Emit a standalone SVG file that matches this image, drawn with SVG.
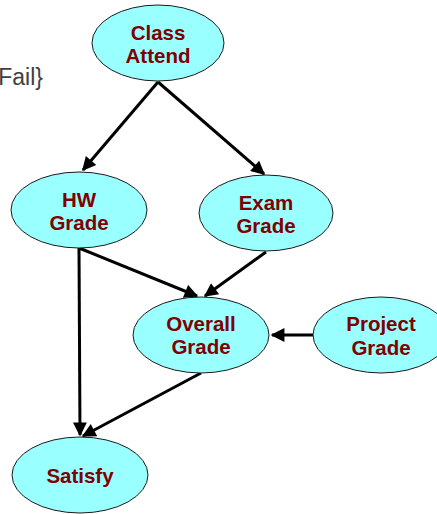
<svg xmlns="http://www.w3.org/2000/svg" width="437" height="514" viewBox="0 0 437 514">
<style>
.n{fill:#99ffff;stroke:#1a1a1a;stroke-width:1}
.t{font-family:"Liberation Sans",Arial,sans-serif;font-weight:bold;font-size:20.5px;fill:#800000;text-anchor:middle}
.e{stroke:#000;stroke-width:3;fill:none;marker-end:url(#ah)}
</style>
<defs>
<marker id="ah" viewBox="0 0 10 10" refX="9" refY="5" markerWidth="5.2" markerHeight="4.6" markerUnits="strokeWidth" orient="auto">
<path d="M0,0 L10,5 L0,10 z" fill="#000"/>
</marker>
</defs>
<rect width="437" height="514" fill="#fff"/>
<text x="43" y="85" font-family="Liberation Sans,Arial,sans-serif" font-size="23" fill="#404040" text-anchor="end">Fail}</text>
<g id="edges">
<line class="e" x1="158" y1="82" x2="83" y2="170"/>
<line class="e" x1="158" y1="82" x2="264" y2="174"/>
<line class="e" x1="79" y1="248" x2="197" y2="296"/>
<line class="e" x1="79" y1="248" x2="80" y2="435"/>
<line class="e" x1="266" y1="252" x2="205" y2="296"/>
<line class="e" x1="313" y1="335" x2="272" y2="335"/>
<line class="e" x1="201" y1="373" x2="83" y2="436"/>
</g>
<g id="class_attend"><ellipse class="n" cx="158" cy="43" rx="66" ry="38"/><text class="t" x="158" y="40">Class</text><text class="t" x="158" y="63">Attend</text></g>
<g id="hw_grade"><ellipse class="n" cx="79" cy="210" rx="68" ry="38"/><text class="t" x="79" y="207">HW</text><text class="t" x="79" y="230">Grade</text></g>
<g id="exam_grade"><ellipse class="n" cx="266" cy="213" rx="67" ry="38"/><text class="t" x="266" y="210">Exam</text><text class="t" x="266" y="233">Grade</text></g>
<g id="overall_grade"><ellipse class="n" cx="201" cy="335" rx="68" ry="38"/><text class="t" x="201" y="331">Overall</text><text class="t" x="201" y="354">Grade</text></g>
<g id="project_grade"><ellipse class="n" cx="381" cy="335" rx="68" ry="38"/><text class="t" x="381" y="331">Project</text><text class="t" x="381" y="355">Grade</text></g>
<g id="satisfy"><ellipse class="n" cx="80" cy="475" rx="68" ry="38"/><text class="t" x="80" y="483">Satisfy</text></g>
</svg>
